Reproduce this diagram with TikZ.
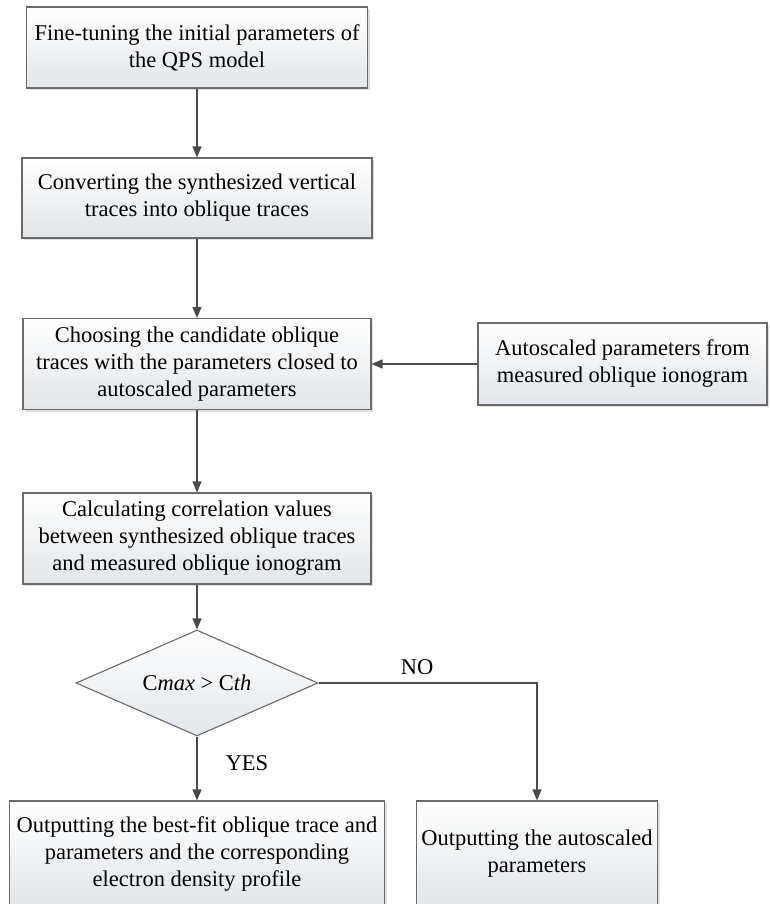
\documentclass[tikz,border=0pt]{standalone}
\usepackage{fontspec}
\setmainfont{Liberation Serif}
\usetikzlibrary{arrows.meta,shapes.geometric,shadows}

\definecolor{framegray}{HTML}{6A6A6A}
\definecolor{linegray}{HTML}{4A4A4A}
\definecolor{boxfill}{HTML}{E2E6EA}

\tikzset{
  flowbox/.style={draw=framegray, line width=1.1pt, top color=white, bottom color=boxfill,
    align=center, inner sep=0pt, font=\fontsize{22.5}{27}\selectfont,
    drop shadow={shadow xshift=2pt, shadow yshift=-2pt, opacity=0.25, fill=gray}},
  decision/.style={diamond, draw=framegray, line width=1.1pt, top color=white, bottom color=boxfill,
    inner sep=0pt, aspect=2.28, font=\fontsize{22.5}{27}\selectfont},
  flowarrow/.style={draw=linegray, line width=1.4pt, -{Triangle[length=11pt,width=9pt]}},
  branchlabel/.style={font=\fontsize{22.5}{27}\selectfont}
}

\begin{document}
\begin{tikzpicture}[x=1pt,y=-1pt]
\useasboundingbox (0,0) rectangle (769,904);

\node[flowbox, minimum width=341pt, minimum height=81pt] (tune) at (197,47.5)
  {Fine-tuning the initial parameters of\\the QPS model};
\node[flowbox, minimum width=350pt, minimum height=80pt] (convert) at (197,198)
  {Converting the synthesized vertical\\traces into oblique traces};
\node[flowbox, minimum width=348pt, minimum height=91pt] (choose) at (197,364)
  {Choosing the candidate oblique\\traces with the parameters closed to\\autoscaled parameters};
\node[flowbox, minimum width=289pt, minimum height=82pt] (auto) at (622.5,364)
  {Autoscaled parameters from\\measured oblique ionogram};
\node[flowbox, minimum width=348pt, minimum height=91pt] (corr) at (197,538.5)
  {Calculating correlation values\\between synthesized oblique traces\\and measured oblique ionogram};
\node[decision, minimum width=242pt, minimum height=106pt] (test) at (197,683)
  {C\textit{max} > C\textit{th}};
\node[flowbox, minimum width=375pt, minimum height=106pt] (best) at (197,854)
  {Outputting the best-fit oblique trace and\\parameters and the corresponding\\electron density profile};
\node[flowbox, minimum width=241pt, minimum height=106pt] (outauto) at (537,854)
  {Outputting the autoscaled\\parameters};

\node[branchlabel] (yes) at (247,763) {YES};
\node[branchlabel] (no) at (417,667) {NO};

\draw[flowarrow] (tune) -- (convert);
\draw[flowarrow] (convert) -- (choose);
\draw[flowarrow] (auto) -- (choose);
\draw[flowarrow] (choose) -- (corr);
\draw[flowarrow] (corr) -- (test);
\draw[flowarrow] (test) -- (best);
\draw[flowarrow] (test.east) -| (outauto.north);
\end{tikzpicture}
\end{document}
